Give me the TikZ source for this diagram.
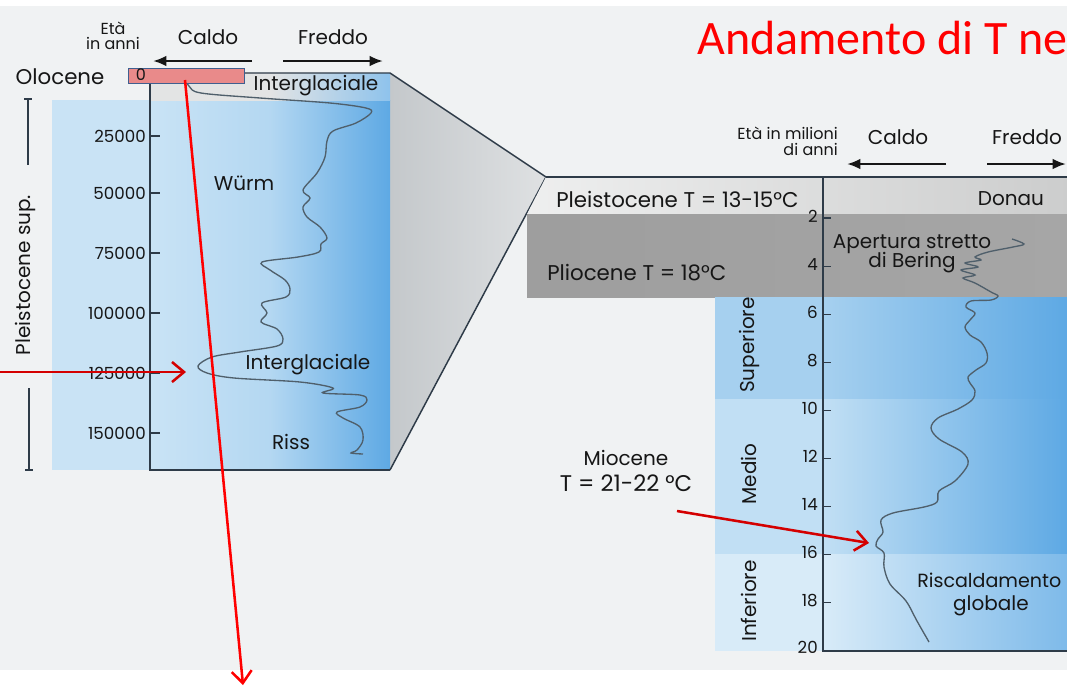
\documentclass[tikz,border=0pt]{standalone}
\usepackage{fontspec}
\setmainfont{Poppins}
\newfontfamily\titlefont{Carlito}
\usetikzlibrary{positioning, calc, arrows.meta}
\tikzset{>=latex}
\definecolor{pagebg}{HTML}{F0F2F3}
\definecolor{inkgray}{HTML}{161616}
\definecolor{axisblue}{HTML}{2E3B48}
\definecolor{curvegray}{HTML}{4F5F6B}
\definecolor{paleblue}{HTML}{C9E3F5}
\definecolor{deepblue}{HTML}{5EA9E4}
\definecolor{funnelgray}{HTML}{C4C8CB}
\definecolor{lightgray}{HTML}{E3E4E4}
\definecolor{midgray}{HTML}{A6A6A6}
\definecolor{supblue}{HTML}{A6D0EF}
\definecolor{medblue}{HTML}{C1DFF4}
\definecolor{infblue}{HTML}{D8EBF8}
\definecolor{arrowred}{HTML}{D40000}
\definecolor{holored}{HTML}{E98A8A}
\definecolor{holoframe}{HTML}{3F5F8F}

\begin{document}
\begin{tikzpicture}
    [
        x=0.75pt, y=-0.75pt,
        txt/.style={inner sep=0pt, text=inkgray, font=\fontsize{15}{17}\selectfont},
        big_txt/.style={inner sep=0pt, text=inkgray, font=\fontsize{16}{18}\selectfont},
        small_txt/.style={inner sep=0pt, text=inkgray, font=\fontsize{12}{13}\selectfont, align=center},
        tick_lbl/.style={inner sep=0pt, anchor=east, text=inkgray, font=\fontsize{12.5}{14}\selectfont},
        axis_line/.style={draw=axisblue, line width=1.1pt},
        curve_line/.style={draw=curvegray, line width=1pt, smooth, tension=0.55},
        red_arrow/.style={draw=arrowred, line width=1.9pt, -{Straight Barb[length=9pt,width=15pt]}},
        black_arrow/.style={draw=inkgray, line width=1.8pt, -{Latex[length=10pt,width=8pt]}},
    ]

  \useasboundingbox (0,0) rectangle (1067,687);
  \fill[white] (0,0) rectangle (1067,687);
  \fill[pagebg] (0,6) rectangle (1067,670);

  % left panel
  \coordinate (boxTL) at (150,73);
  \coordinate (boxTR) at (390,73);
  \coordinate (boxBR) at (390,470);
  \coordinate (boxBL) at (150,470);
  \coordinate (apex) at (546,177);

  \fill[paleblue] (52,100) rectangle (150,470);
  \shade[left color=funnelgray, right color=funnelgray!55!white] (boxTR) -- (apex) -- (boxBR) -- cycle;
  \shade[left color=paleblue, right color=deepblue, middle color=paleblue!80!deepblue] (150,100) rectangle (boxBR);
  \shade[left color=lightgray, right color=deepblue!70!white, middle color=lightgray] (boxTL) rectangle (390,100);
  \draw[axis_line] (boxTL) -- (boxBL) -- (boxBR);
  \draw[axis_line] (boxTL) -- (boxTR) -- (apex);
  \draw[axis_line] (boxBR) -- (apex);

  \foreach \val/\yy in {25000/136, 50000/193, 75000/253, 100000/313, 125000/373, 150000/433}
  {
    \draw[axis_line] (150,\yy) -- (160,\yy);
    \node[tick_lbl] (lt\val) at (146,\yy) {\val};
  }

  \draw[curve_line] plot coordinates {(181,74) (189,86) (201,93) (260,98) (330,103) (366,108) (371,113) (356,123) (333,131) (327,141) (325,157) (317,173) (303,190) (310,198) (303,207) (307,217) (320,227) (327,238) (321,244) (319,252) (298,257) (262,262) (270,270) (285,280) (290,289) (286,297) (262,303) (267,313) (261,322) (277,329) (283,339) (277,346) (240,352) (212,357) (198,366) (207,373) (234,378) (300,382) (333,388) (323,393) (360,395) (367,400) (360,407) (337,412) (343,418) (360,427) (363,440) (357,450) (351,453) (363,454)};

  \node[txt] (topInter) at (316,86) {Interglaciale};
  \node[txt] (wurm) at (244,183) {Würm};
  \node[txt] (midInter) at (308,365) {Interglaciale};
  \node[txt] (riss) at (291,442) {Riss};

  \node[small_txt] (etaL) at (113,36) {Età\\[-2pt]in anni};
  \node[txt] (caldoL) at (208,37) {Caldo};
  \node[txt] (freddoL) at (333,37) {Freddo};
  \coordinate (caldoLs) at (252,61);
  \coordinate (caldoLe) at (153,61);
  \coordinate (freddoLs) at (283,61);
  \coordinate (freddoLe) at (383,61);
  \draw[black_arrow] (caldoLs) -- (caldoLe);
  \draw[black_arrow] (freddoLs) -- (freddoLe);

  \node[big_txt] (olocene) at (60,77) {Olocene};
  \node[draw=holoframe, line width=1.2pt, fill=holored, minimum width=87pt, minimum height=11pt, inner sep=0pt] (holoBox) at (186.5,76) {};
  \node[small_txt] (zero) at (141,75) {0};

  \node[txt] (pleistoSup) at (25,275) [rotate=90] {Pleistocene sup.};
  \coordinate (psTopA) at (28,99);
  \coordinate (psTopB) at (28,165);
  \coordinate (psBotA) at (29,388);
  \coordinate (psBotB) at (29,470);
  \draw[axis_line, line width=1.5pt] (psTopA) -- (psTopB);
  \draw[axis_line, line width=1.5pt] (psBotA) -- (psBotB);
  \draw[axis_line] (24,99) -- (32,99);
  \draw[axis_line] (25,470) -- (33,470);

  % right panel
  \coordinate (axisTop) at (823,177);
  \coordinate (axisBot) at (823,651);
  \coordinate (axisEnd) at (1067,651);

  \shade[left color=lightgray!60!white, right color=lightgray!90!black] (apex) -- (1067,177) -- (1067,214) -- (527,214) -- cycle;
  \shade[left color=midgray!95!black, right color=midgray] (527,214) rectangle (1067,297);
  \fill[supblue] (715,297) rectangle (823,399);
  \fill[medblue] (715,399) rectangle (823,554);
  \fill[infblue] (715,554) rectangle (823,651);
  \shade[left color=supblue, right color=deepblue] (823,297) rectangle (1067,399);
  \shade[left color=medblue, right color=deepblue] (823,399) rectangle (1067,554);
  \shade[left color=infblue, right color=deepblue!80!white] (823,554) rectangle (1067,651);

  \draw[axis_line] (apex) -- (1067,177);
  \draw[axis_line] (axisTop) -- (axisBot) -- (axisEnd);

  \foreach \m in {2,4,...,18}
  {
    \pgfmathsetmacro\yy{218+(\m-2)*24.05}
    \draw[axis_line, line width=0.8pt] (823,\yy) -- (831,\yy);
    \node[tick_lbl] (rt\m) at (818,{\yy-2}) {\m};
  }
  \node[tick_lbl] (rt20) at (818,647) {20};

  \draw[curve_line] plot coordinates {(1012,239) (1024,244) (1013,247) (988,252) (975,257) (981,260) (965,263) (978,267) (961,270) (975,275) (963,278) (975,283) (991,292) (998,296) (991,300) (971,301) (966,307) (975,313) (970,320) (965,327) (970,335) (981,342) (987,353) (986,363) (976,370) (968,377) (970,383) (975,391) (972,400) (958,409) (938,418) (931,428) (939,439) (962,452) (968,464) (955,481) (939,491) (937,502) (924,507) (893,513) (881,520) (883,532) (878,539) (876,546) (884,553) (884,567) (890,584) (906,601) (917,621) (929,642)};

  \node[small_txt, align=right, anchor=east] (etaR) at (838,141) {Età in milioni\\[-1pt]di anni};
  \node[txt] (caldoR) at (898,137) {Caldo};
  \node[txt] (freddoR) at (1027,137) {Freddo};
  \coordinate (caldoRs) at (946,164);
  \coordinate (caldoRe) at (847,164);
  \coordinate (freddoRs) at (987,164);
  \coordinate (freddoRe) at (1066,164);
  \draw[black_arrow] (caldoRs) -- (caldoRe);
  \draw[black_arrow] (freddoRs) -- (freddoRe);

  \node[big_txt, anchor=west] (pleisto) at (556,199) {Pleistocene T = 13-15°C};
  \node[big_txt, anchor=west] (plio) at (547,273) {Pliocene T = 18°C};
  \node[txt] (donau) at (1011,199) {Donau};
  \node[txt, align=center] (bering) at (912,254) {Apertura stretto\\[-3pt]di Bering};
  \node[txt] (superiore) at (749,345) [rotate=90] {Superiore};
  \node[txt] (medio) at (749,474) [rotate=90] {Medio};
  \node[txt] (inferiore) at (749,601) [rotate=90] {Inferiore};
  \node[txt] (miocene) at (626,458) {Miocene};
  \node[big_txt, font=\fontsize{17}{19}\selectfont] (mioT) at (626,483) {T = 21-22 °C};
  \node[txt, anchor=west, font=\fontsize{14.3}{16}\selectfont] (riscald) at (917,580) {Riscaldamento};
  \node[txt] (globale) at (991,606) {globale};

  % red markers
  \coordinate (holoStart) at (185,80);
  \coordinate (holoEnd) at (243,685);
  \coordinate (interStart) at (0,372);
  \coordinate (interEnd) at (186,372);
  \coordinate (mioStart) at (677,511);
  \coordinate (mioEnd) at (869,543);
  \draw[red_arrow, draw=red] (holoStart) -- (holoEnd);
  \draw[red_arrow] (interStart) -- (interEnd);
  \draw[red_arrow] (mioStart) -- (mioEnd);

  \node[anchor=west, inner sep=0pt, text=red, font=\titlefont\fontsize{36}{40}\selectfont] (title) at (697,38) {Andamento di T ne};
\end{tikzpicture}
\end{document}
